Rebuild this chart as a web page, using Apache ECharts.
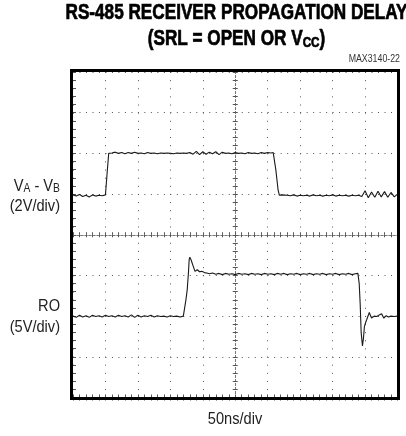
<!DOCTYPE html>
<html>
<head>
<meta charset="utf-8">
<script src="https://cdn.jsdelivr.net/npm/echarts@6/dist/echarts.min.js"></script>
<style>
html,body{margin:0;padding:0;background:#fff;}
#chart{width:406px;height:436px;}
</style>
</head>
<body>
<div id="chart"></div>
<script>
// time axis in divisions (50ns/div), vertical in divisions (0 = bottom)
var vaTime = [0.0,0.1,0.2,0.3,0.4,0.5,0.6,0.7,0.8,0.9,1.0,1.05,1.1,1.13,
  1.2,1.3,1.4,1.5,1.6,1.7,1.8,1.9,2.0,2.1,2.2,2.3,2.4,2.5,2.6,2.7,2.8,2.9,3.0,3.1,3.2,3.3,3.4,3.5,3.6,3.7,3.8,3.9,
  4.0,4.1,4.2,4.3,4.4,4.5,4.6,4.7,4.8,4.9,5.0,5.1,5.2,5.3,5.4,5.5,5.6,5.7,5.8,5.9,6.0,6.1,6.17,
  6.25,6.32,6.36,6.4,6.45,
  6.5,6.6,6.7,6.8,6.9,7.0,7.1,7.2,7.3,7.4,7.5,7.6,7.7,7.8,7.9,8.0,8.1,8.2,8.3,8.4,8.5,8.6,8.7,8.8,8.9,
  9.0,9.1,9.2,9.3,9.4,9.5,9.6,9.7,9.8,9.9,10.0];
var vaLevel = [4.98,4.95,4.99,4.94,4.97,4.93,4.98,4.95,4.97,4.96,4.98,5.5,6.0,6.03,
  6.01,6.03,6.0,6.02,5.99,6.02,6.0,6.03,6.0,6.01,5.99,6.02,6.0,6.01,5.99,6.01,6.0,6.01,6.0,5.99,6.01,6.0,6.01,6.0,6.02,5.98,6.05,5.97,
  6.04,5.98,6.03,5.99,6.04,5.97,6.03,6.0,6.01,5.99,6.02,6.0,6.01,5.99,6.02,6.0,6.01,5.99,6.02,6.0,6.02,6.01,6.02,
  5.6,5.1,4.97,4.93,4.98,
  4.95,4.97,4.96,4.98,4.95,4.97,4.96,4.97,4.95,4.98,4.96,4.97,4.95,4.97,4.96,4.98,4.95,4.97,4.96,4.97,4.95,4.97,4.96,4.97,4.94,
  5.08,4.91,5.05,4.92,5.07,4.93,5.06,4.92,5.04,4.93,5.0];

var roTime = [0.0,0.1,0.2,0.3,0.4,0.5,0.6,0.7,0.8,0.9,1.0,1.1,1.2,1.3,1.4,1.5,1.6,1.7,1.8,1.9,2.0,2.1,2.2,2.3,2.4,2.5,2.6,2.7,2.8,2.9,3.0,3.1,3.2,3.3,3.4,3.43,
  3.48,3.52,3.56,3.58,3.6,
  3.64,3.69,3.76,3.8,3.83,3.9,3.97,4.05,4.12,4.2,
  4.3,4.4,4.5,4.6,4.7,4.8,4.9,5.0,5.1,5.2,5.3,5.4,5.5,5.6,5.7,5.8,5.9,6.0,6.1,6.2,6.3,6.4,6.5,6.6,6.7,6.8,6.9,7.0,7.1,7.2,7.3,7.4,7.5,7.6,7.7,7.8,7.9,8.0,8.1,8.2,8.3,8.4,8.5,8.6,8.7,8.78,
  8.82,8.85,8.88,8.92,8.95,8.98,9.02,9.05,9.1,9.13,9.2,9.28,9.36,9.44,9.51,9.58,9.65,9.72,9.8,9.9,10.0];
var roLevel = [2.0,1.97,2.02,1.98,2.01,1.97,2.02,1.99,2.01,1.98,2.02,1.99,2.01,1.98,2.02,1.99,2.01,1.98,2.03,1.97,2.02,1.98,2.01,1.99,2.02,1.98,2.01,1.99,2.0,1.98,2.01,1.99,2.0,1.98,2.0,2.02,
  2.4,2.65,3.1,3.39,3.45,
  3.38,3.26,3.1,3.12,3.14,3.09,3.1,3.07,3.06,3.04,
  3.06,3.03,3.05,3.02,3.05,3.03,3.04,3.02,3.05,3.03,3.04,3.02,3.05,3.03,3.04,3.02,3.05,3.03,3.04,3.02,3.05,3.03,3.05,3.02,3.04,3.03,3.05,3.02,3.04,3.03,3.05,3.02,3.04,3.03,3.05,3.02,3.04,3.03,3.05,3.02,3.04,3.03,3.05,3.02,3.04,3.05,
  2.8,2.3,1.6,1.27,1.45,1.74,1.85,1.91,2.02,2.09,1.95,2.0,1.99,2.03,2.06,1.95,2.01,1.98,2.0,1.99,2.0];

var xDivisions = [0, 10];
var yDivisions = [0, 8];

function pairs(xs, ys){ var out=[]; for(var i=0;i<xs.length;i++){ out.push([xs[i], ys[i]]); } return out; }

var sans = '"Liberation Sans",Arial,sans-serif';
var gridCol = '#555';

function xAx(pos, offset, inside, showSplit, tickLen, lineOpts){
  return {
    type:'value', min:xDivisions[0], max:xDivisions[1], interval:1, position:pos, offset:offset,
    axisLabel:{show:false},
    axisLine: lineOpts || {show:false},
    axisTick:{show:true, inside:inside, length:tickLen, lineStyle:{color:gridCol, width:1}},
    minorTick:{show:true, splitNumber:5, length:tickLen, lineStyle:{color:gridCol, width:1}},
    splitLine:{show:showSplit, lineStyle:{color:gridCol, width:1, type:[1,7.13]}}
  };
}
function yAx(pos, offset, inside, showSplit, tickLen, lineOpts){
  return {
    type:'value', min:yDivisions[0], max:yDivisions[1], interval:1, position:pos, offset:offset,
    axisLabel:{show:false},
    axisLine: lineOpts || {show:false},
    axisTick:{show:true, inside:inside, length:tickLen, lineStyle:{color:gridCol, width:1}},
    minorTick:{show:true, splitNumber:5, length:tickLen, lineStyle:{color:gridCol, width:1}},
    splitLine:{show:showSplit, lineStyle:{color:gridCol, width:1, type:[1,5.49]}}
  };
}
var centerLine = {show:true, onZero:false, lineStyle:{color:'#777', width:1, type:[2,2]}};

var chart = echarts.init(document.getElementById('chart'), null, {renderer:'canvas'});
chart.setOption({
  animation:false,
  backgroundColor:'#fff',
  grid:{left:73, top:72, right:8.5, bottom:38.5, show:false},
  xAxis:[
    xAx('bottom', 0, true, true, 3),
    xAx('top', 0, true, false, 3),
    xAx('bottom', -162.75, true, false, 2.5, centerLine),
    xAx('bottom', -162.75, false, false, 2.5, centerLine)
  ],
  yAxis:[
    yAx('left', 0, true, true, 3),
    yAx('right', 0, true, false, 3),
    yAx('left', -162.25, true, false, 2.5, centerLine),
    yAx('left', -162.25, false, false, 2.5, centerLine)
  ],
  series:[
    {type:'line', name:'VA-VB', xAxisIndex:0, yAxisIndex:0, data:pairs(vaTime, vaLevel), showSymbol:false, symbol:'none',
     lineStyle:{color:'#1a1a1a', width:1.1}, z:5},
    {type:'line', name:'RO', xAxisIndex:0, yAxisIndex:0, data:pairs(roTime, roLevel), showSymbol:false, symbol:'none',
     lineStyle:{color:'#1a1a1a', width:1.1}, z:5}
  ],
  graphic:[
    {type:'rect', shape:{x:71.5, y:70.5, width:327, height:328}, style:{fill:'none', stroke:'#000', lineWidth:3}, z:10},
    {type:'text', x:236.5, y:13, scaleX:0.78, style:{text:'RS-485 RECEIVER PROPAGATION DELAY', font:'bold 22px '+sans, fill:'#000', stroke:'#000', lineWidth:0.7, textAlign:'center', textVerticalAlign:'middle'}},
    {type:'text', x:236.5, y:38, scaleX:0.78, style:{text:'{t|(SRL = OPEN OR V}{s|CC}{t|)}', fill:'#000', stroke:'#000', lineWidth:0.7, textAlign:'center', textVerticalAlign:'middle',
       rich:{t:{font:'bold 22px '+sans, fill:'#000', verticalAlign:'bottom', lineHeight:24}, s:{font:'bold 15px '+sans, fill:'#000', verticalAlign:'bottom', lineHeight:19}}}},
    {type:'text', x:400, y:59, scaleX:0.88, style:{text:'MAX3140-22', font:'10px '+sans, fill:'#333', textAlign:'right', textVerticalAlign:'middle'}},
    {type:'text', x:60, y:185, scaleX:0.86, style:{text:'{t|V}{s|A}{t| - V}{s|B}', fill:'#222', textAlign:'right', textVerticalAlign:'middle',
       rich:{t:{font:'17px '+sans, fill:'#222', verticalAlign:'bottom', lineHeight:20}, s:{font:'12px '+sans, fill:'#222', verticalAlign:'bottom', lineHeight:15}}}},
    {type:'text', x:60, y:206, scaleX:0.86, style:{text:'(2V/div)', font:'17px '+sans, fill:'#222', textAlign:'right', textVerticalAlign:'middle'}},
    {type:'text', x:60, y:306, scaleX:0.86, style:{text:'RO', font:'17px '+sans, fill:'#222', textAlign:'right', textVerticalAlign:'middle'}},
    {type:'text', x:60, y:327, scaleX:0.86, style:{text:'(5V/div)', font:'17px '+sans, fill:'#222', textAlign:'right', textVerticalAlign:'middle'}},
    {type:'text', x:235, y:419, scaleX:0.86, style:{text:'50ns/div', font:'17px '+sans, fill:'#222', textAlign:'center', textVerticalAlign:'middle'}}
  ]
});
</script>
</body>
</html>
